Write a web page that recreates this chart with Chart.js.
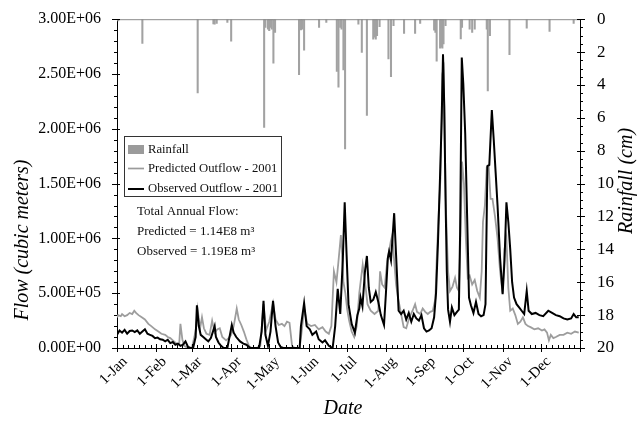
<!DOCTYPE html>
<html>
<head>
<meta charset="utf-8">
<script src="https://cdn.jsdelivr.net/npm/chart.js@4.4.1/dist/chart.umd.min.js"></script>
<style>
  html, body { margin: 0; padding: 0; background: #fff; }
  #wrap { width: 642px; height: 424px; position: relative; }
</style>
</head>
<body>
<div id="wrap"><canvas id="c" width="642" height="424"></canvas></div>
<script>
// ---- Data (day of year 2001, 0 = 1-Jan) ----
const monthStartDay = [0, 31, 59, 90, 120, 151, 181, 212, 243, 273, 304, 334, 365];
const monthLabels = ['1-Jan','1-Feb','1-Mar','1-Apr','1-May','1-Jun','1-Jul','1-Aug','1-Sep','1-Oct','1-Nov','1-Dec',''];
const flowTickLabels = ['0.00E+00','5.00E+05','1.00E+06','1.50E+06','2.00E+06','2.50E+06','3.00E+06'];
const rainTickLabels = ['0','2','4','6','8','10','12','14','16','18','20'];

// Observed outflow (millions of cubic meters)
const obsDay = [0,2,4,6,8,10,12,14,16,18,20,22,24,26,28,30,32,34,36,38,40,42,44,46,48,50,52,54,56,58,60,62,63,64.5,66,68,70,72,74,77,78,80,82,84,87,89,90.5,92,94,97,99.6,102,105,112,114,115.5,117,119,121,123,125,127,129,131,144,145,147.5,149.5,152,154,157,159,162,164,167,170,172,174,176,178,179.5,181,182.5,185,187.5,189.5,191,192,193.5,195.5,197,198.5,200,202,204,206,208,210.5,212,213.5,214.5,216,218.5,220,222,224,226,228,230,232,234,236,238,240,242,244,246,248,250,251.5,253,254.5,256,257,258,259,260,261,262.5,264,266,268,269.5,270.5,271.8,273,274.5,276,277.5,279,281,283,285,287,289,290.5,292,293.5,295.5,297,298.5,300,302,304,305.5,307,308.5,310,311.5,313,315,317,319,321,323,324.5,327,330,333,336,340,343,346,349,352,355,358,360,362,364];
const obsFlow = [0.12,0.16,0.14,0.165,0.13,0.155,0.16,0.145,0.16,0.13,0.15,0.17,0.13,0.12,0.11,0.09,0.095,0.08,0.075,0.06,0.075,0.045,0.055,0.03,0.04,0.02,0.03,0.06,0.01,0,0,0.1,0.39,0.2,0.12,0.1,0.08,0.06,0.09,0.2,0.1,0.05,0.02,0,0,0.12,0.21,0.14,0.1,0.06,0.04,0.03,0,0,0.15,0.43,0.12,0.02,0.15,0.43,0.2,0.05,0.01,0,0,0.2,0.41,0.2,0.17,0.12,0.15,0.08,0.05,0.07,0.02,0,0.2,0.54,0.31,0.8,1.33,0.85,0.4,0.22,0.14,0.3,0.36,0.46,0.38,0.7,0.84,0.55,0.42,0.44,0.51,0.42,0.3,0.21,0.5,0.82,0.88,0.8,1.23,0.85,0.34,0.31,0.34,0.26,0.32,0.24,0.31,0.27,0.25,0.3,0.18,0.15,0.16,0.18,0.28,0.5,0.95,1.5,2.1,2.68,2.2,1.36,0.7,0.35,0.24,0.37,0.3,0.33,0.35,1.06,2.65,2.41,1.96,1.21,0.46,0.39,0.32,0.42,0.31,0.29,0.3,0.4,1.66,1.67,2.17,1.9,1.6,1.3,0.82,0.49,0.8,1.33,1.15,0.9,0.6,0.46,0.4,0.37,0.34,0.31,0.52,0.34,0.31,0.32,0.3,0.29,0.34,0.32,0.3,0.29,0.27,0.26,0.27,0.31,0.28,0.28];

// Predicted outflow (millions of cubic meters)
const predDay = [0,1,3,4,6,8,10,12,13.6,15,17,19.5,22,24.7,27,30,32.6,35,38,40,42,44,47,49,50,51.5,53,56,59,61,62.5,63.6,65.5,67,68.5,70.5,73,75,77,79,81,83,86,88,90,92,94.4,96,98,100,102,104,106,110,113,115.5,117.5,120,123,125,127.5,130,132,134,136,138,140,144,145.5,147.5,150,153,156,159,162,164.5,167,169,171,173,174.5,176.5,177.5,178.5,180,181.5,183,185,187,189,191,193.7,195.5,197.5,200,203,206,207.4,209,211,213,215.8,217,218.5,220,221.5,223.5,226,228,230.5,233,235,236.5,239,241,243,245,247,249,251,252,253.5,255,256.5,257.5,258.5,259.5,261,262.5,264.5,266.5,268,269.5,270.5,272,273.5,275,276.5,278,280,282,284,286,287.5,288.5,290,291.5,293,294.5,296,298,300,302,304,305.5,307,308.5,310,312,314,316,318,320,322,324,326,329,332,335,337,339,340.5,342,344,346,349,352,355,358,361,364];
const predFlow = [0.28,0.3,0.29,0.31,0.29,0.3,0.32,0.31,0.34,0.32,0.3,0.28,0.26,0.22,0.2,0.17,0.15,0.13,0.12,0.1,0.09,0.07,0.04,0.03,0.22,0.08,0.02,0,0,0.1,0.2,0.35,0.18,0.28,0.18,0.13,0.12,0.25,0.14,0.17,0.18,0.1,0.07,0.09,0.12,0.2,0.36,0.26,0.21,0.15,0.08,0.02,0,0,0.02,0.4,0.16,0.24,0.41,0.26,0.21,0.22,0.2,0.24,0.23,0.02,0,0,0.14,0.36,0.22,0.2,0.21,0.17,0.19,0.15,0.13,0.2,0.7,0.6,0.78,1.03,0.85,0.6,0.5,0.35,0.25,0.15,0.1,0.2,0.5,0.76,0.6,0.4,0.34,0.31,0.34,0.7,0.58,0.55,0.79,0.97,1.03,0.8,0.58,0.46,0.34,0.19,0.18,0.28,0.34,0.4,0.33,0.31,0.36,0.33,0.31,0.33,0.34,0.45,0.8,1.21,1.55,2.5,2.55,1.8,1.2,0.7,0.52,0.56,0.64,0.55,0.52,0.9,1.7,1.5,1.0,0.64,0.66,0.58,0.62,0.52,0.46,0.7,1.15,1.3,1.65,1.66,1.36,1.36,1.2,1.0,0.7,0.5,0.9,1.0,0.55,0.34,0.36,0.3,0.22,0.24,0.28,0.22,0.2,0.19,0.17,0.18,0.16,0.17,0.14,0.07,0.12,0.09,0.1,0.12,0.12,0.14,0.13,0.15,0.14];

// Daily rainfall (cm)
const rainDay = [1,20,63.6,76,77,78.6,87,90,116,117,119,120,121,122,123.3,124.6,143.5,145,146,147.5,159.3,165,173.3,174.6,176,177,178.5,179.8,190.3,193,197,202,203,204,205,207,214,216,218,226.3,235,239,250,251,252,254.7,255.5,256.5,257.4,259,271,272,278,280,282,291.5,292.3,294,309.4,323,341,360];
const rainCm = [0.1,1.48,4.48,0.28,0.3,0.25,0.2,1.34,6.58,0.5,0.6,0.7,0.5,0.6,2.68,0.8,3.38,0.65,0.6,1.88,0.5,0.2,3.18,4.14,0.5,0.6,3.08,7.89,0.3,2.02,5.86,1.22,1.1,1.22,1.0,0.46,2.42,3.5,0.4,0.86,0.86,0.26,0.66,0.8,2.56,1.76,1.7,1.76,1.5,0.4,1.2,0.5,0.6,0.8,0.6,0.6,4.36,1.0,2.16,0.55,0.75,0.25];

const legendLabels = ['Rainfall', 'Predicted Outflow - 2001', 'Observed Outflow - 2001'];
const noteLines = ['Total Annual Flow:', 'Predicted = 1.14E8 m\u00B3', 'Observed = 1.19E8 m\u00B3'];

// ---- Build datasets ----
const toPts = (xs, ys, k) => xs.map((d, i) => ({ x: d, y: ys[i] * k }));
const SERIF = '"Liberation Serif", "Times New Roman", serif';

const decor = {
  id: 'decor',
  afterDraw(chart) {
    const { ctx, chartArea: a, scales } = chart;
    const xs = scales.x, ys = scales.y, y2 = scales.y2;
    ctx.save();
    const seg = (x1, y1, x2, y2_, color, w) => {
      ctx.beginPath(); ctx.strokeStyle = color; ctx.lineWidth = w;
      ctx.moveTo(x1, y1); ctx.lineTo(x2, y2_); ctx.stroke();
    };
    // top frame line
    seg(a.left, a.top + 0.5, a.right, a.top + 0.5, '#8a8a8a', 1);
    // left ticks
    for (let v = 0; v <= 3e6 + 1; v += 1e5) {
      const py = Math.round(ys.getPixelForValue(v)) + 0.5;
      const major = Math.round(v / 1e5) % 5 === 0;
      if (major) seg(a.left - 5, py, a.left + 3, py, '#000', 1);
      else seg(a.left - 3, py, a.left, py, '#000', 1);
    }
    // right ticks
    for (let v = 0; v <= 20.001; v += 0.5) {
      const py = Math.round(y2.getPixelForValue(v)) + 0.5;
      const major = Math.abs(v / 2 - Math.round(v / 2)) < 1e-6;
      if (major) seg(a.right - 3, py, a.right + 5, py, '#000', 1);
      else seg(a.right, py, a.right + 3, py, '#000', 1);
    }
    // bottom ticks
    for (let m = 0; m < monthStartDay.length; m++) {
      const px = Math.round(xs.getPixelForValue(monthStartDay[m])) + 0.5;
      seg(px, a.bottom - 4, px, a.bottom + 4, '#000', 1);
      if (m < monthStartDay.length - 1) {
        const len = monthStartDay[m + 1] - monthStartDay[m];
        for (let k = 1; k < 7; k++) {
          const qx = Math.round(xs.getPixelForValue(monthStartDay[m] + len * k / 7)) + 0.5;
          seg(qx, a.bottom - 3, qx, a.bottom, '#000', 1);
        }
      }
    }
    // legend box
    ctx.fillStyle = '#fff';
    ctx.fillRect(124, 136, 157, 60);
    ctx.strokeStyle = '#333'; ctx.lineWidth = 1;
    ctx.strokeRect(124.5, 136.5, 157, 60);
    ctx.fillStyle = '#9b9b9b';
    ctx.fillRect(128, 145, 16, 9);
    seg(128, 168.5, 144, 168.5, '#9b9b9b', 1.7);
    seg(128, 189, 144, 189, '#000', 2);
    ctx.fillStyle = '#111';
    ctx.font = '12.7px ' + SERIF;
    ctx.textAlign = 'left'; ctx.textBaseline = 'middle';
    ctx.fillText(legendLabels[0], 148, 150);
    ctx.fillText(legendLabels[1], 148, 169);
    ctx.fillText(legendLabels[2], 148, 189);
    // annotation
    ctx.font = '13px ' + SERIF;
    ctx.fillText(noteLines[0], 137, 212);
    ctx.fillText(noteLines[1], 137, 232);
    ctx.fillText(noteLines[2], 137, 252);
    // axis titles
    ctx.font = 'italic 20px ' + SERIF;
    ctx.textAlign = 'center'; ctx.textBaseline = 'middle';
    ctx.fillStyle = '#000';
    ctx.fillText('Date', 343, 409);
    ctx.save();
    ctx.translate(23, 240); ctx.rotate(-Math.PI / 2);
    ctx.fillText('Flow (cubic meters)', 0, 0);
    ctx.restore();
    ctx.save();
    ctx.translate(627, 181); ctx.rotate(-Math.PI / 2);
    ctx.fillText('Rainfall (cm)', 0, 0);
    ctx.restore();
    ctx.restore();
  }
};

new Chart(document.getElementById('c'), {
  type: 'line',
  data: {
    datasets: [
      {
        label: legendLabels[2], data: toPts(obsDay, obsFlow, 1e6), yAxisID: 'y',
        borderColor: '#000', borderWidth: 2, pointRadius: 0, tension: 0, fill: false, order: 0
      },
      {
        label: legendLabels[1], data: toPts(predDay, predFlow, 1e6), yAxisID: 'y',
        borderColor: '#9d9d9d', borderWidth: 1.8, pointRadius: 0, tension: 0, fill: false, order: 1
      },
      {
        type: 'bar', label: legendLabels[0], data: toPts(rainDay, rainCm, 1), yAxisID: 'y2',
        backgroundColor: '#a2a2a2', borderWidth: 0, barThickness: 1.4, grouped: false, order: 2
      }
    ]
  },
  options: {
    responsive: false,
    animation: false,
    events: [],
    layout: { padding: { top: 15, left: 0, right: 0, bottom: 0 } },
    plugins: { legend: { display: false }, tooltip: { enabled: false } },
    scales: {
      x: {
        type: 'linear', min: 0, max: 365, offset: false,
        grid: { display: false },
        border: { display: true, color: '#000', width: 1 },
        afterBuildTicks: s => { s.ticks = monthStartDay.map(v => ({ value: v })); },
        afterFit: s => { s.height = 76; },
        ticks: {
          autoSkip: false, maxRotation: 45, minRotation: 45, padding: -3, labelOffset: 8,
          font: { family: SERIF, size: 15 }, color: '#000',
          callback: (v) => monthLabels[monthStartDay.indexOf(v)]
        }
      },
      y: {
        type: 'linear', position: 'left', min: 0, max: 3e6,
        grid: { display: false },
        border: { display: true, color: '#000', width: 1 },
        afterFit: s => { s.width = 117; },
        ticks: {
          stepSize: 5e5, padding: 8,
          font: { family: SERIF, size: 16 }, color: '#000',
          callback: (v) => flowTickLabels[Math.round(v / 5e5)]
        }
      },
      y2: {
        type: 'linear', position: 'right', min: 0, max: 20, reverse: true,
        grid: { display: false },
        border: { display: true, color: '#000', width: 1 },
        afterFit: s => { s.width = 62; },
        ticks: {
          stepSize: 2, padding: 9,
          font: { family: SERIF, size: 17 }, color: '#000',
          callback: (v) => rainTickLabels[Math.round(v / 2)]
        }
      }
    }
  },
  plugins: [decor]
});
</script>
</body>
</html>
